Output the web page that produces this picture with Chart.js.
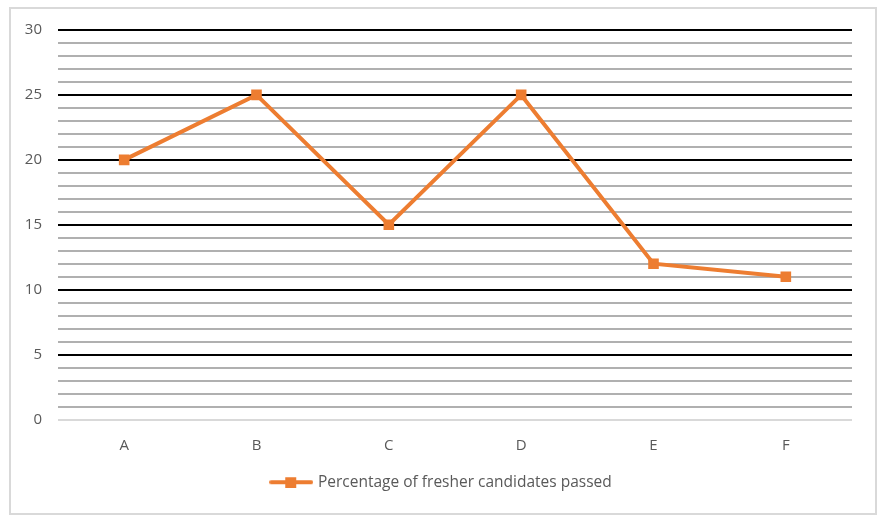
<!DOCTYPE html>
<html>
<head>
<meta charset="utf-8">
<script src="https://cdn.jsdelivr.net/npm/chart.js@4"></script>
<style>
  html, body { margin: 0; padding: 0; background: #fff; }
  #wrap { position: relative; width: 884px; height: 517px; }
  #frame {
    position: absolute; left: 9px; top: 7px; width: 864px; height: 504px;
    border: 2px solid #d9d9d9; pointer-events: none;
  }
</style>
</head>
<body>
<div id="wrap">
  <canvas id="chart" width="884" height="517"></canvas>
  <div id="frame"></div>
</div>
<script>
const categories = ['A', 'B', 'C', 'D', 'E', 'F'];
const passedValues = [20, 25, 15, 25, 12, 11];
const seriesLabel = 'Percentage of fresher candidates passed';
const yMin = 0;
const yMax = 30;

const orange = '#ED7D31';
const textGray = '#595959';
const fontFamily = 'Open Sans, Liberation Sans, sans-serif';

// legend marker: line with a square in the middle
function makeLegendMarker() {
    const c = document.createElement('canvas');
    c.width = 44;
    c.height = 12;
    const g = c.getContext('2d');
    g.strokeStyle = orange;
    g.lineWidth = 4;
    g.lineCap = 'round';
    g.beginPath();
    g.moveTo(2, 6);
    g.lineTo(42, 6);
    g.stroke();
    g.fillStyle = orange;
    g.fillRect(16, 1, 11, 11);
    return c;
}
const legendMarker = makeLegendMarker();

// centre the legend on the whole canvas instead of the padded box
const centerLegend = {
    id: 'centerLegend',
    afterLayout(chart) {
        const lg = chart.legend;
        if (lg) {
            lg.right = chart.width;
            lg.width = lg.right - lg.left;
        }
    }
};

new Chart(document.getElementById('chart'), {
    type: 'line',
    data: {
        labels: categories,
        datasets: [{
            label: seriesLabel,
            data: passedValues,
            borderColor: orange,
            backgroundColor: orange,
            borderWidth: 4,
            pointStyle: 'rect',
            pointRadius: 7.5,
            pointBorderWidth: 0,
            pointBackgroundColor: orange,
            tension: 0
        }]
    },
    plugins: [centerLegend],
    options: {
        responsive: false,
        animation: false,
        layout: {
            padding: { top: 30, right: 32, bottom: 17, left: 0 }
        },
        plugins: {
            tooltip: { enabled: false },
            legend: {
                position: 'bottom',
                labels: {
                    color: textGray,
                    font: { family: fontFamily, size: 15.5 },
                    usePointStyle: true,
                    pointStyleWidth: 38,
                    padding: 10,
                    generateLabels: () => [{
                        text: seriesLabel,
                        pointStyle: legendMarker,
                        fontColor: textGray,
                        lineWidth: 0,
                        datasetIndex: 0
                    }]
                }
            }
        },
        scales: {
            x: {
                offset: true,
                grid: { display: false, drawTicks: false },
                border: { display: false },
                ticks: {
                    color: textGray,
                    padding: 17,
                    font: { family: fontFamily, size: 15 }
                },
                afterFit: (scale) => { scale.height = 45; }
            },
            y: {
                min: yMin,
                max: yMax,
                ticks: {
                    stepSize: 1,
                    autoSkip: false,
                    color: textGray,
                    padding: 16,
                    font: { family: fontFamily, size: 15 },
                    callback: (v) => (v % 5 === 0 ? v : '')
                },
                grid: {
                    drawTicks: false,
                    color: (ctx) => {
                        const v = ctx.tick.value;
                        if (v === 0) return '#d9d9d9';
                        return v % 5 === 0 ? '#000000' : '#b0b0b0';
                    },
                    lineWidth: 2
                },
                border: { display: false },
                afterFit: (scale) => { scale.width = 58; }
            }
        }
    }
});
</script>
</body>
</html>
